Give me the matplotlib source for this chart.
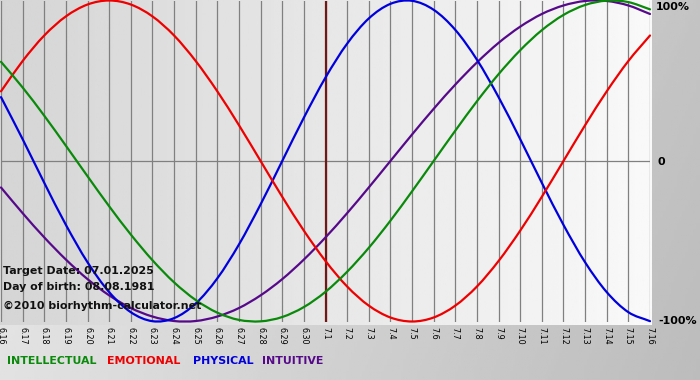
import numpy as np
import matplotlib
matplotlib.use("Agg")
import matplotlib.pyplot as plt
from matplotlib.path import Path
from matplotlib.patches import PathPatch

# ---- data (per day 6.16 .. 7.16) ----
dates = ["6.16", "6.17", "6.18", "6.19", "6.20", "6.21", "6.22", "6.23", "6.24", "6.25",
         "6.26", "6.27", "6.28", "6.29", "6.30", "7.1", "7.2", "7.3", "7.4", "7.5",
         "7.6", "7.7", "7.8", "7.9", "7.10", "7.11", "7.12", "7.13", "7.14", "7.15", "7.16"]

intellectual = [0.618, 0.458, 0.282, 0.095, -0.095, -0.282, -0.458, -0.618, -0.756, -0.866,
                -0.945, -0.990, -0.999, -0.972, -0.910, -0.815, -0.690, -0.541, -0.372, -0.189,
                0.000, 0.189, 0.372, 0.541, 0.690, 0.815, 0.910, 0.972, 0.999, 0.990, 0.945]

emotional = [0.434, 0.623, 0.782, 0.901, 0.975, 1.000, 0.975, 0.901, 0.782, 0.623,
             0.434, 0.223, 0.000, -0.223, -0.434, -0.623, -0.782, -0.901, -0.975, -1.000,
             -0.975, -0.901, -0.782, -0.623, -0.434, -0.223, 0.000, 0.223, 0.434, 0.623, 0.782]

physical = [0.398, 0.136, -0.136, -0.398, -0.631, -0.817, -0.942, -0.998, -0.979, -0.888,
            -0.731, -0.520, -0.270, 0.000, 0.270, 0.520, 0.731, 0.888, 0.979, 0.998,
            0.942, 0.817, 0.631, 0.398, 0.136, -0.136, -0.398, -0.631, -0.817, -0.942, -0.998]

intuitive = [-0.165, -0.325, -0.476, -0.614, -0.736, -0.837, -0.916, -0.969, -0.997, -0.997,
             -0.969, -0.916, -0.837, -0.736, -0.614, -0.476, -0.325, -0.165, 0.000, 0.165,
             0.325, 0.476, 0.614, 0.736, 0.837, 0.916, 0.969, 0.997, 0.997, 0.969, 0.916]

target_index = 15  # 7.1
legend_names = ["INTELLECTUAL", "EMOTIONAL", "PHYSICAL", "INTUITIVE"]
y_labels = ["100%", "0", "-100%"]
info_lines = ["Target Date: 07.01.2025", "Day of birth: 08.08.1981",
              "\u00a92010 biorhythm-calculator.net"]

# ---- styling ----
W, H, DPI = 700, 380, 100
C_INT = "#0a8a0a"
C_EMO = "#ee0000"
C_PHY = "#0000dd"
C_ITU = "#560a8a"
FS = 11 * 72 / DPI  # 11 px

fig = plt.figure(figsize=(W / DPI, H / DPI), dpi=DPI)

# figure background gradient
bg = fig.add_axes([0, 0, 1, 1], zorder=0)
gx = np.linspace(0, 1, 256)
gy = np.linspace(0, 1, 64)
GX, GY = np.meshgrid(gx, gy)
grad = 234 - 38 * GX - 8 * GY
bg.imshow(grad, cmap="gray", vmin=0, vmax=255, aspect="auto",
          extent=[0, 1, 0, 1], origin="upper")
bg.set_axis_off()


def px(x, y):
    return x / W, 1 - y / H


# main axes: x from pixel 1 (day 0) to 650 (day 30), y from 0 to 321
x0p, x1p = 1, 650
ytop, ybot = 0.5, 321.5
ax = fig.add_axes([x0p / W, 1 - ybot / H, (x1p - x0p) / W, (ybot - ytop) / H], zorder=1)
for s in ax.spines.values():
    s.set_visible(False)

# plot background gradient
pg = np.linspace(213, 249, 256)[None, :]
ax.imshow(pg, cmap="gray", vmin=0, vmax=255, aspect="auto",
          extent=[-0.05, len(dates) - 1 + 0.05, -1.02, 1.02], zorder=0, clip_on=False)
ax.set_xlim(0, len(dates) - 1)
ax.set_ylim(-1.0, 1.0)

days = np.arange(len(dates))
for d in days:
    ax.axvline(d, color="#808080", lw=0.9, zorder=1)
ax.axhline(0, color="#808080", lw=0.9, zorder=1)

ax.axvline(days[target_index], color="#701818", lw=1.6, zorder=2)


def smooth_line(ax, xs, ys, color):
    """Smooth (Catmull-Rom style) curve through the data points."""
    xs = np.asarray(xs, float)
    ys = np.asarray(ys, float)
    pts = np.column_stack([xs, ys])
    ext = np.vstack([2 * pts[0] - pts[1], pts, 2 * pts[-1] - pts[-2]])
    verts = [tuple(pts[0])]
    codes = [Path.MOVETO]
    for i in range(len(pts) - 1):
        p0, p1, p2, p3 = ext[i], ext[i + 1], ext[i + 2], ext[i + 3]
        c1 = p1 + (p2 - p0) / 6.0
        c2 = p2 - (p3 - p1) / 6.0
        verts += [tuple(c1), tuple(c2), tuple(p2)]
        codes += [Path.CURVE4] * 3
    patch = PathPatch(Path(verts, codes), facecolor="none", edgecolor=color,
                      lw=1.6, zorder=3, clip_on=False, capstyle="round", joinstyle="round")
    ax.add_patch(patch)


smooth_line(ax, days, intuitive, C_ITU)
smooth_line(ax, days, physical, C_PHY)
smooth_line(ax, days, emotional, C_EMO)
smooth_line(ax, days, intellectual, C_INT)

ax.set_xticks(days)
ax.set_xticklabels(dates, rotation=-90, fontsize=8 * 72 / DPI, color="#000000")
ax.tick_params(axis="x", length=0, pad=4)
ax.set_yticks([])

# right-hand labels
for lab, (xx, yy) in zip(y_labels, [(656, 7), (658, 162), (658, 321)]):
    fig.text(*px(xx, yy), lab, fontsize=FS, fontweight="bold", va="center", ha="left",
             family="DejaVu Sans")

# info text
for txt, yy in zip(info_lines, [271, 287, 306]):
    fig.text(*px(3, yy), txt, fontsize=FS, fontweight="bold", va="center", ha="left",
             family="DejaVu Sans", color="#111111", zorder=5)

# legend text
for name, col, xx in zip(legend_names, [C_INT, C_EMO, C_PHY, C_ITU], [7, 107, 193, 262]):
    fig.text(*px(xx, 361), name, fontsize=FS, fontweight="bold", va="center", ha="left",
             family="DejaVu Sans", color=col)

fig.savefig("out.png", dpi=DPI)
